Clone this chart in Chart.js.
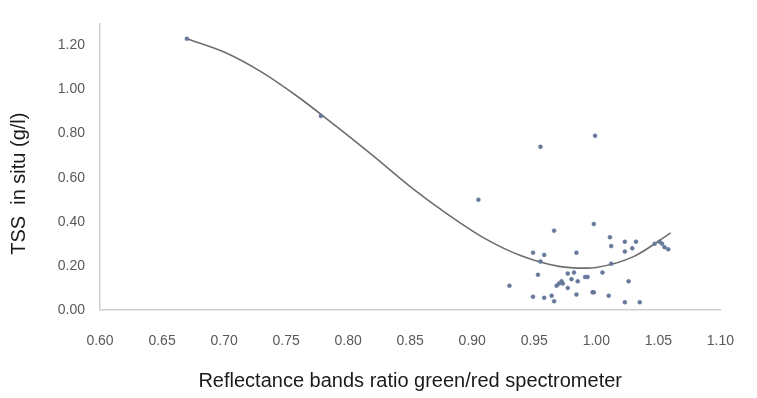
<!DOCTYPE html>
<html>
<head>
<meta charset="utf-8">
<script src="https://cdn.jsdelivr.net/npm/chart.js@4/dist/chart.umd.min.js"></script>
<style>
  html, body { margin: 0; padding: 0; background: #fff; }
  #wrap { width: 757px; height: 398px; }
</style>
</head>
<body>
<div id="wrap"><canvas id="c" width="757" height="398"></canvas></div>
<script>
const ratioX = [
  0.670, 0.778, 0.905, 0.955, 0.999, 0.998, 0.966, 1.011,
  0.930, 0.949, 0.958, 0.955, 0.984, 0.953, 0.977, 0.982,
  0.980, 0.985, 0.991, 0.993, 0.972, 0.970, 0.973, 0.968,
  0.977, 0.964, 0.984, 0.949, 0.958, 0.966, 0.997,
  1.012, 1.023, 1.032, 1.023, 1.029, 1.012, 1.005, 1.026,
  0.998, 1.010, 1.023, 1.035,
  1.047, 1.051, 1.053, 1.055, 1.058
];
const tssY = [
  1.23, 0.88, 0.50, 0.74, 0.79, 0.39, 0.36, 0.33,
  0.11, 0.26, 0.25, 0.22, 0.26, 0.16, 0.165, 0.17,
  0.14, 0.13, 0.15, 0.15, 0.13, 0.12, 0.12, 0.11,
  0.10, 0.065, 0.07, 0.06, 0.055, 0.04, 0.08,
  0.29, 0.31, 0.31, 0.265, 0.28, 0.21, 0.17, 0.13,
  0.08, 0.065, 0.035, 0.035,
  0.30, 0.31, 0.30, 0.285, 0.275
];

// Polynomial trend line
const trendX = [0.67, 0.70, 0.73, 0.76, 0.79, 0.82, 0.85, 0.88, 0.91, 0.94, 0.97, 0.99, 1.00, 1.03, 1.06];
const trendY = [1.23, 1.17, 1.08, 0.965, 0.835, 0.70, 0.56, 0.435, 0.325, 0.245, 0.198, 0.19, 0.193, 0.242, 0.35];

const yTicks = [0, 0.2, 0.4, 0.6, 0.8, 1.0, 1.2];
const xTicks = [0.60, 0.65, 0.70, 0.75, 0.80, 0.85, 0.90, 0.95, 1.00, 1.05, 1.10];
const yTitle = 'TSS  in situ (g/l)';

const toPts = (xs, ys) => xs.map((x, i) => ({ x, y: ys[i] }));

const tickFont = { family: 'Liberation Sans', size: 14 };
const titleFont = { family: 'Liberation Sans', size: 20 };

// y title sits a bit below the plot centre in the original, so draw it by hand
const yTitlePlugin = {
  id: 'yTitle',
  afterDraw(chart) {
    const ctx = chart.ctx;
    const y = chart.scales.y;
    ctx.save();
    ctx.translate(19, (y.top + y.bottom) / 2 + 17);
    ctx.rotate(-Math.PI / 2);
    ctx.font = titleFont.size + 'px "' + titleFont.family + '"';
    ctx.fillStyle = '#1a1a1a';
    ctx.textAlign = 'center';
    ctx.textBaseline = 'middle';
    ctx.fillText(yTitle, 0, 0);
    ctx.restore();
  }
};

new Chart(document.getElementById('c'), {
  type: 'scatter',
  data: {
    datasets: [
      {
        label: 'trend',
        data: toPts(trendX, trendY),
        showLine: true,
        cubicInterpolationMode: 'monotone',
        borderColor: '#6e6e6e',
        borderWidth: 1.6,
        pointRadius: 0,
        fill: false,
        order: 2
      },
      {
        label: 'TSS',
        data: toPts(ratioX, tssY),
        pointRadius: 2,
        pointBackgroundColor: '#66789a',
        pointBorderColor: '#66789a',
        pointBorderWidth: 0.5,
        order: 1
      }
    ]
  },
  options: {
    responsive: false,
    animation: false,
    layout: { padding: { top: 20, right: 29, left: 0, bottom: 0 } },
    plugins: { legend: { display: false }, tooltip: { enabled: false } },
    scales: {
      x: {
        type: 'linear',
        min: 0.6,
        max: 1.1,
        afterBuildTicks: (axis) => { axis.ticks = xTicks.map(v => ({ value: v })); },
        afterFit: (axis) => { axis.height = 88; },
        grid: { display: false, drawTicks: false },
        border: { display: true, color: '#d0d0d0', width: 1.5 },
        ticks: {
          padding: 23,
          maxRotation: 0,
          color: '#595959',
          font: tickFont,
          callback: (v) => Number(v).toFixed(2)
        },
        title: {
          display: true,
          text: 'Reflectance bands ratio green/red spectrometer',
          color: '#1a1a1a',
          font: titleFont,
          padding: { top: 4, bottom: 5 }
        }
      },
      y: {
        type: 'linear',
        min: 0,
        max: 1.3,
        afterBuildTicks: (axis) => { axis.ticks = yTicks.map(v => ({ value: v })); },
        afterFit: (axis) => { axis.width = 100; },
        grid: { display: false, drawTicks: false },
        border: { display: true, color: '#d0d0d0', width: 1.5 },
        ticks: {
          padding: 15,
          color: '#595959',
          font: tickFont,
          callback: (v) => Number(v).toFixed(2)
        },
        title: { display: false }
      }
    }
  },
  plugins: [yTitlePlugin]
});
</script>
</body>
</html>
